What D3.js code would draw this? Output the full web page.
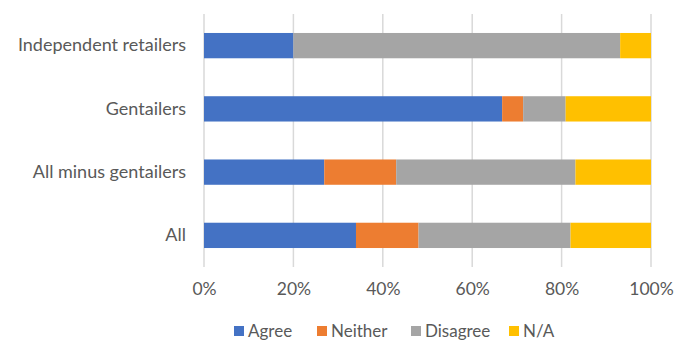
<!DOCTYPE html>
<html>
<head>
<meta charset="utf-8">
<script src="https://cdn.jsdelivr.net/npm/d3@7"></script>
<style>
  html, body { margin: 0; padding: 0; background: #fff; }
  svg { display: block; }
  text { font-family: Lato, "Open Sans", sans-serif; fill: #595959; }
</style>
</head>
<body>
<svg id="chart" width="677" height="343"></svg>
<script>
// Survey responses by respondent group (percent of respondents)
const categories = ["Independent retailers", "Gentailers", "All minus gentailers", "All"];
const seriesNames = ["Agree", "Neither", "Disagree", "N/A"];
const agree    = [20.0, 66.7, 26.9, 34.0];
const neither  = [0.0, 4.7, 16.1, 14.0];
const disagree = [73.1, 9.5, 40.1, 34.0];
const na       = [6.9, 19.1, 16.9, 18.0];
const tickValues = [0, 0.2, 0.4, 0.6, 0.8, 1.0];
const colors = ["#4472C4", "#ED7D31", "#A5A5A5", "#FFC000"];

const rows = categories.map((c, i) => ({
  category: c,
  Agree: agree[i], Neither: neither[i], Disagree: disagree[i], "N/A": na[i]
}));

const svg = d3.select("#chart");
const margin = { left: 204, right: 26, top: 14, bottom: 76 };
const width = 677, height = 343;
const fontFamily = "Lato, 'Open Sans', sans-serif";

const x = d3.scaleLinear().domain([0, 1]).range([margin.left, width - margin.right]);
const y = d3.scaleBand().domain(categories)
  .range([margin.top, height - margin.bottom])
  .paddingInner(0.6).paddingOuter(0.3);
const color = d3.scaleOrdinal().domain(seriesNames).range(colors);

// vertical gridlines
svg.append("g")
  .selectAll("line")
  .data(tickValues)
  .join("line")
  .attr("x1", d => x(d)).attr("x2", d => x(d))
  .attr("y1", margin.top).attr("y2", height - margin.bottom)
  .attr("stroke", "#d9d9d9").attr("stroke-width", 1.5);

// stacked bars, each row normalised to 100%
const stack = d3.stack().keys(seriesNames).offset(d3.stackOffsetExpand);
const layers = stack(rows);

svg.append("g")
  .selectAll("g")
  .data(layers)
  .join("g")
  .attr("fill", d => color(d.key))
  .selectAll("rect")
  .data(d => d)
  .join("rect")
  .attr("x", d => x(d[0]))
  .attr("width", d => x(d[1]) - x(d[0]))
  .attr("y", d => y(d.data.category))
  .attr("height", y.bandwidth());

// x axis tick labels
const xAxis = d3.axisBottom(x).tickValues(tickValues).tickFormat(d3.format(".0%")).tickSize(0).tickPadding(0);
const gx = svg.append("g")
  .attr("transform", `translate(0,${height - margin.bottom + 22})`)
  .call(xAxis);
gx.select(".domain").remove();
gx.selectAll("text").style("font-size", "17.5px").attr("fill", "#595959").attr("dy", "0.32em")
  .attr("font-family", fontFamily);

// y axis category labels
const yAxis = d3.axisLeft(y).tickSize(0).tickPadding(18);
const gy = svg.append("g")
  .attr("transform", `translate(${margin.left},0)`)
  .call(yAxis);
gy.select(".domain").remove();
gy.selectAll("text").style("font-size", "18px").attr("fill", "#595959")
  .attr("font-family", fontFamily);

// legend
const legendX = [234, 317, 411, 509];
const legend = svg.append("g").attr("transform", "translate(0,331)");
const items = legend.selectAll("g")
  .data(seriesNames)
  .join("g")
  .attr("transform", (d, i) => `translate(${legendX[i]},0)`);
items.append("rect")
  .attr("x", 0).attr("y", -5).attr("width", 10).attr("height", 10)
  .attr("fill", d => color(d));
items.append("text")
  .attr("x", 14).attr("dy", "0.35em")
  .style("font-size", "17px")
  .text(d => d);
</script>
</body>
</html>
